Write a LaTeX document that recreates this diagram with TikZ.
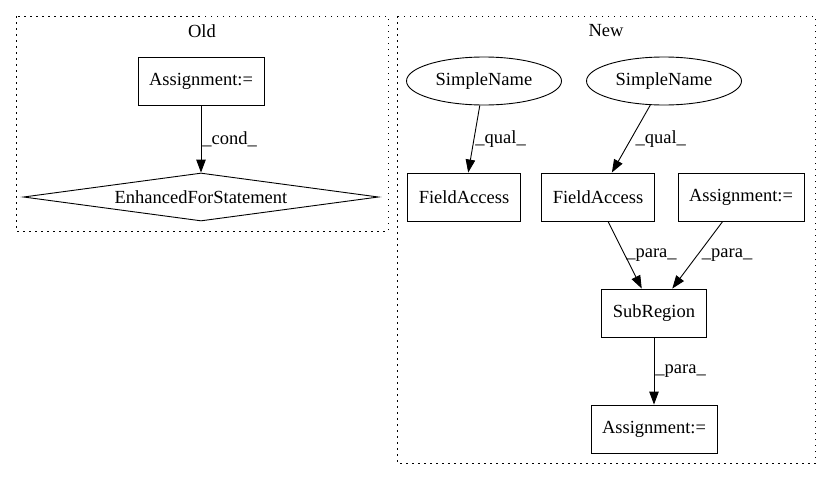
\documentclass[tikz,border=0pt]{standalone}
\usepackage{fontspec}
\setmainfont{Liberation Serif}
\usetikzlibrary{shapes, arrows.meta}

\begin{document}
\begin{tikzpicture}[x=1pt, y=-1pt, font=\fontsize{18.5}{21}\selectfont,
  box/.style={draw, line width=0.9pt, inner xsep=11pt, minimum height=48pt},
  oval/.style={draw, ellipse, line width=0.9pt, minimum width=155pt, minimum height=48pt, inner sep=0pt},
  cond/.style={draw, diamond, line width=0.9pt, minimum width=355pt, minimum height=48pt, inner sep=0pt, aspect=7.4},
  cluster/.style={draw, line width=1pt, dash pattern=on 1.5pt off 4.5pt},
  edge/.style={line width=0.9pt, -{Triangle[length=13pt, width=9.5pt]}},
  lbl/.style={anchor=west, inner sep=1pt}]
\useasboundingbox (0,0) rectangle (831,480);
\draw[cluster] (16,16) rectangle (388,231);
\draw[cluster] (397,16) rectangle (815,463);
\node (oldlabel) at (202,31) {Old};
\node (newlabel) at (606,31) {New};
\node[box] (oldassign) at (201,81) {Assignment:=};
\node[cond] (enhfor) at (201,197) {EnhancedForStatement};
\node[oval] (sname1) at (484,81) {SimpleName};
\node[oval] (sname2) at (664,81) {SimpleName};
\node[box] (faccess1) at (464,197) {FieldAccess};
\node[box] (faccess2) at (598,197) {FieldAccess};
\node[box] (newassign) at (741,197) {Assignment:=};
\node[box] (subreg) at (654,313) {SubRegion};
\node[box] (outassign) at (654,429) {Assignment:=};
\draw[edge] (oldassign) -- node[lbl] {\_cond\_} (enhfor);
\draw[edge] (sname1) -- node[lbl] {\_qual\_} (faccess1);
\draw[edge] (sname2) -- node[lbl, xshift=3pt] {\_qual\_} (faccess2);
\draw[edge] ([xshift=10pt]faccess2.south) -- node[lbl] {\_para\_} (subreg);
\draw[edge] (newassign) -- node[lbl, xshift=3pt] {\_para\_} (subreg);
\draw[edge] (subreg) -- node[lbl] {\_para\_} (outassign);
\end{tikzpicture}
\end{document}
